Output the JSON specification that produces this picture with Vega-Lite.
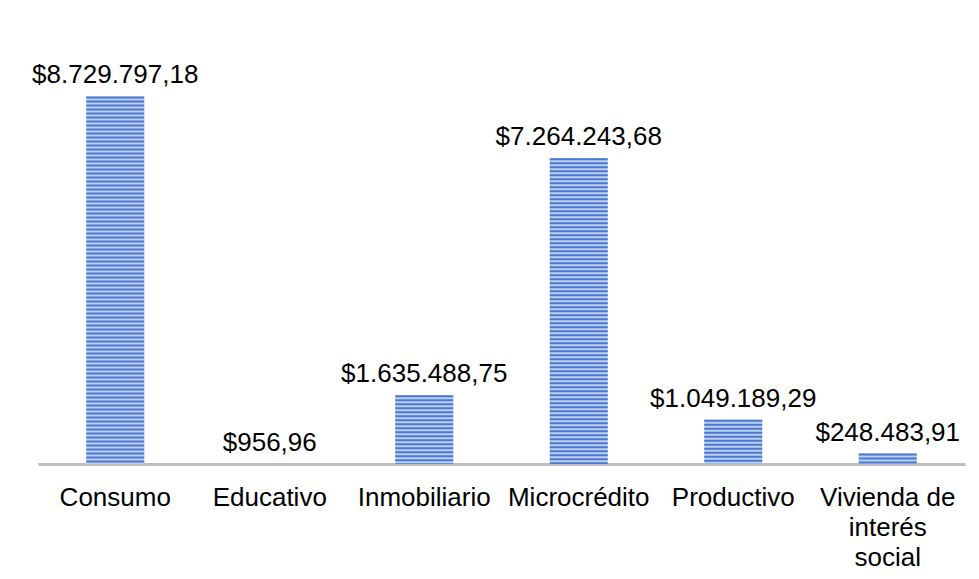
{
  "$schema": "https://vega.github.io/schema/vega-lite/v6.json",
  "width": 927,
  "height": 421,
  "autosize": "none",
  "padding": {"left": 38, "top": 43, "right": 14, "bottom": 115},
  "background": "white",
  "config": {"view": {"stroke": null}, "font": "Liberation Sans"},
  "data": {
    "values": [
      {"categoria": "Consumo", "monto": 8729797.18, "etiqueta": "$8.729.797,18"},
      {"categoria": "Educativo", "monto": 956.96, "etiqueta": "$956,96"},
      {"categoria": "Inmobiliario", "monto": 1635488.75, "etiqueta": "$1.635.488,75"},
      {"categoria": "Microcrédito", "monto": 7264243.68, "etiqueta": "$7.264.243,68"},
      {"categoria": "Productivo", "monto": 1049189.29, "etiqueta": "$1.049.189,29"},
      {"categoria": "Vivienda de interés social", "monto": 248483.91, "etiqueta": "$248.483,91"}
    ]
  },
  "encoding": {
    "x": {
      "field": "categoria",
      "type": "nominal",
      "sort": null,
      "scale": {"paddingInner": 0.625, "paddingOuter": 0.3125},
      "axis": {
        "title": null,
        "labelAngle": 0,
        "ticks": false,
        "tickSize": 0,
        "domainColor": "#bfbfbf",
        "domainWidth": 3,
        "labelFont": "Liberation Sans",
        "labelFontSize": 26,
        "labelColor": "black",
        "labelPadding": 20,
        "labelLineHeight": 30,
        "labelBaseline": "top",
        "labelOverlap": false,
        "labelLimit": 0,
        "labelExpr": "datum.value == 'Vivienda de interés social' ? ['Vivienda de', 'interés', 'social'] : datum.label"
      }
    },
    "y": {
      "field": "monto",
      "type": "quantitative",
      "scale": {"domain": [0, 10000000]},
      "axis": null
    }
  },
  "layer": [
    {"mark": {"type": "bar", "color": "#bccff2"}},
    {
      "mark": {"type": "rule", "color": "#4a78cf", "strokeWidth": 58, "strokeDash": [2, 2], "strokeCap": "butt"},
      "encoding": {"y2": {"datum": 0}}
    },
    {
      "mark": {"type": "text", "dy": -13, "baseline": "alphabetic", "fontSize": 26, "color": "black", "font": "Liberation Sans"},
      "encoding": {"text": {"field": "etiqueta"}}
    }
  ]
}
